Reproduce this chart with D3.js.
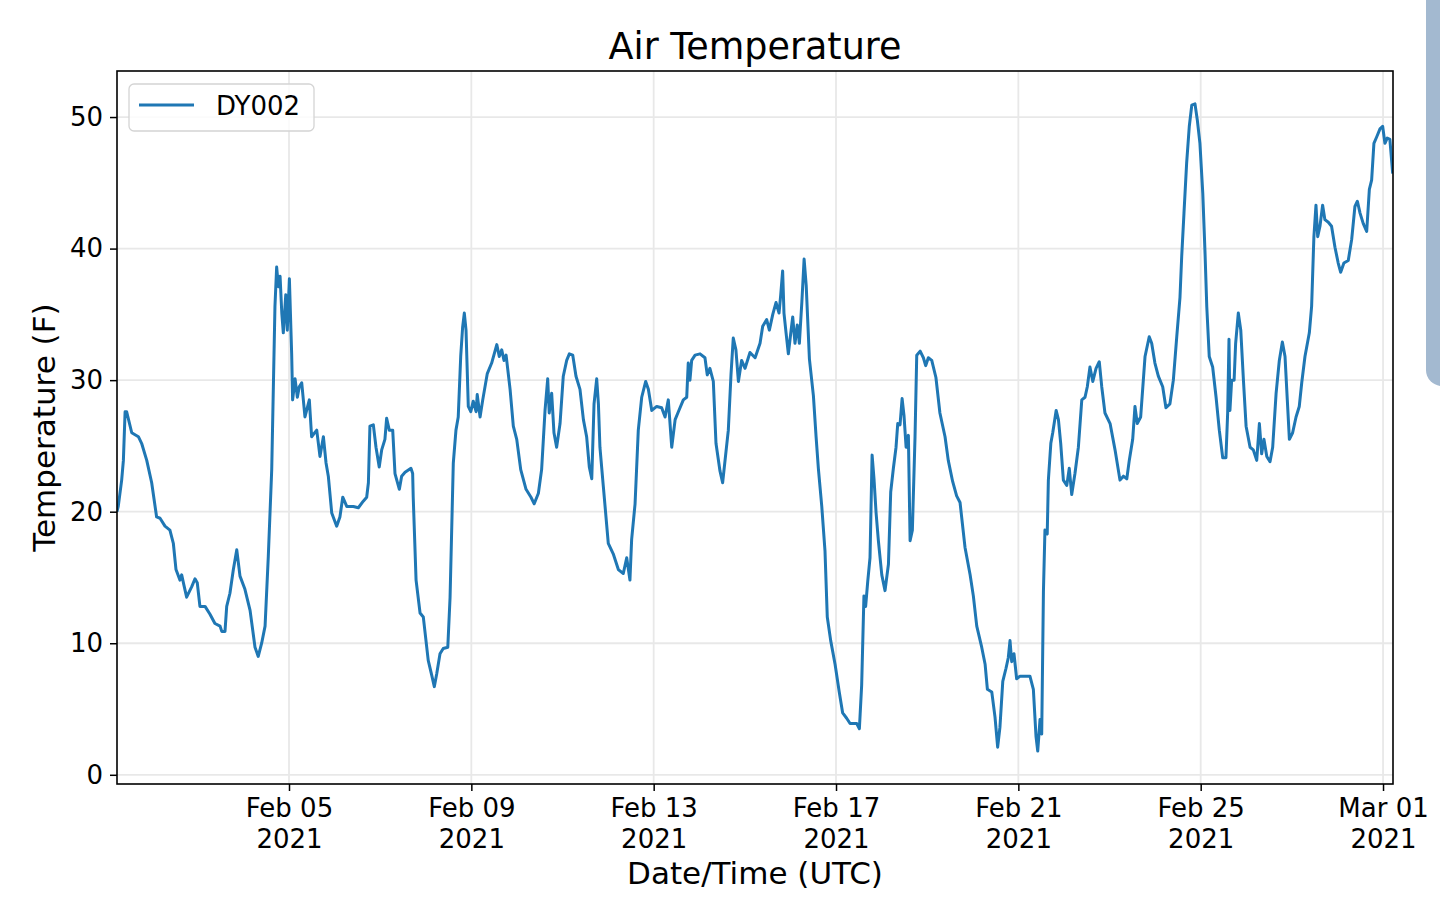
<!DOCTYPE html>
<html>
<head>
<meta charset="utf-8">
<script src="https://cdn.jsdelivr.net/npm/d3@7"></script>
<style>
  html, body { margin: 0; padding: 0; background: #fff; }
  svg, svg text { font-family: "DejaVu Sans", sans-serif; }
  svg { display: block; }
</style>
</head>
<body>
<div id="chart"></div>
<script>
// hours after 2021-02-01 00:00 UTC
const obsHours = [
  5.4, 6.1, 7.9, 8.8, 9.7, 10.5, 13.2, 16.7, 18.4, 21.1, 23.7, 26.3, 28.1, 30.7, 33.3, 35.1,
  36.5, 38.6, 39.5, 40.7, 42.1, 44.8, 46.5, 47.7, 49.1, 51.8, 54.4, 57.0, 59.7, 60.6, 62.3, 63.2,
  64.9, 66.7, 68.5, 70.2, 72.8, 75.5, 78.1, 79.8, 81.6, 83.4, 85.1, 86.0, 86.9, 88.6, 89.5, 90.4,
  91.3, 92.2, 93.0, 94.3, 95.1, 96.2, 97.4, 97.9, 99.2, 100.4, 101.4, 102.7, 104.4, 106.7, 107.9,
  110.6, 112.3, 114.1, 115.5, 116.7, 118.5, 121.1, 122.8, 124.3, 126.4, 129.9, 132.5, 135.1, 136.9,
  137.8, 138.6, 140.4, 141.8, 143.5, 144.8, 146.5, 147.4, 148.8, 150.6, 151.8, 154.1, 155.3, 157.1,
  160.2, 161.1, 161.4, 162.9, 165.0, 166.7, 169.3, 171.1, 172.5, 173.8, 175.5, 177.2, 179.6, 180.8,
  182.5, 183.9, 185.1, 186.4, 187.4, 188.3, 189.2, 190.4, 191.7, 193.0, 194.5, 195.1, 196.6, 198.0,
  200.4, 202.7, 205.4, 206.7, 208.0, 209.2, 210.3, 212.4, 214.1, 215.9, 218.0, 220.8, 223.4, 225.1,
  227.3, 229.0, 230.8, 232.2, 233.0, 234.3, 235.5, 236.9, 238.7, 240.4, 242.2, 243.6, 245.4, 247.1,
  249.2, 251.0, 252.7, 254.1, 255.4, 256.6, 258.0, 258.9, 259.7, 261.5, 264.1, 266.7, 269.4, 272.0,
  273.8, 275.5, 276.4, 278.2, 279.9, 281.7, 283.8, 285.2, 287.0, 289.6, 292.2, 294.0, 295.7, 297.5,
  299.3, 301.0, 303.6, 305.4, 306.2, 307.1, 308.0, 309.8, 312.4, 315.0, 316.2, 317.6, 319.4, 320.8,
  322.9, 324.3, 326.1, 327.3, 328.7, 329.9, 331.3, 332.6, 334.3, 336.1, 338.7, 341.4, 344.0, 345.4,
  347.5, 348.9, 350.7, 352.4, 354.0, 354.9, 355.9, 356.6, 357.7, 358.9, 360.2, 361.2, 362.4, 363.6,
  364.7, 366.0, 367.2, 368.3, 370.0, 372.1, 373.5, 374.7, 376.5, 378.2, 379.4, 381.2, 383.5, 385.7,
  387.5, 389.6, 391.4, 394.9, 396.3, 397.5, 398.7, 399.6, 400.7, 401.9, 403.0, 404.0, 405.1, 406.3,
  408.1, 409.8, 411.6, 412.8, 414.2, 415.6, 416.5, 417.7, 418.8, 419.8, 420.9, 422.1, 423.0, 424.2,
  425.6, 426.5, 428.3, 430.0, 431.2, 432.6, 434.4, 436.6, 438.7, 441.4, 443.1, 445.4, 447.5, 449.3,
  451.9, 454.6, 456.3, 458.1, 460.7, 462.5, 463.7, 466.0, 467.7, 469.1, 470.3, 471.8, 473.5, 474.7,
  475.6, 476.5, 477.7, 479.1, 480.9, 486.1, 487.9, 489.3, 490.2, 491.4, 492.3, 493.2, 494.0, 495.2,
  495.8, 497.1, 498.1, 499.9, 501.1, 502.3, 503.7, 505.5, 506.8, 508.1, 509.8, 511.6, 513.4, 515.1,
  516.3, 517.7, 519.2, 520.9, 522.6, 523.9, 525.6, 528.3, 530.9, 533.5, 535.3, 537.1, 538.4, 540.2,
  541.4, 542.6, 544.4, 546.7, 548.9, 550.2, 551.9, 553.7, 556.0, 557.7, 559.8, 561.6, 563.4, 565.1,
  566.0, 567.2, 568.6, 570.0, 571.3, 573.0, 574.2, 575.6, 577.1, 578.3, 579.2, 580.5, 582.3, 584.1,
  585.8, 587.6, 589.3, 590.2, 590.9, 591.4, 592.3, 593.6, 594.4, 595.8, 597.1, 598.5, 599.9, 602.0,
  603.7, 605.5, 606.9, 608.1, 609.3, 610.8, 612.5, 613.9, 615.7, 617.4, 619.0, 620.4, 621.6, 622.7,
  624.4, 626.2, 627.9, 629.2, 630.9, 633.2, 634.4, 635.6, 636.7, 637.6, 638.8, 640.2, 641.4, 643.2,
  644.9, 646.7, 648.4, 649.7, 651.4, 653.7, 655.5, 657.2, 658.5, 659.9, 661.6, 663.4, 664.8, 666.0,
  667.2, 668.7, 670.4, 671.8, 673.0, 674.2, 675.6, 677.1
];

// air temperature (F) at those times
const obsTemps = [
  20.0, 20.4, 22.4, 23.9, 27.6, 27.6, 26.0, 25.7, 25.2, 23.9, 22.2, 19.6, 19.5, 18.9, 18.6, 17.6,
  15.6, 14.8, 15.2, 14.4, 13.5, 14.3, 14.9, 14.6, 12.8, 12.8, 12.2, 11.5, 11.3, 10.9, 10.9, 12.8,
  13.8, 15.6, 17.1, 15.1, 14.1, 12.5, 9.7, 9.0, 10.0, 11.3, 16.6, 19.9, 23.2, 35.6, 38.6, 37.1,
  37.9, 35.1, 33.6, 36.5, 33.8, 37.7, 32.0, 28.5, 30.1, 28.7, 29.5, 29.8, 27.2, 28.5, 25.7,
  26.2, 24.2, 25.7, 23.7, 22.7, 19.9, 18.9, 19.6, 21.1, 20.4, 20.4, 20.3, 20.8, 21.1,
  22.2, 26.5, 26.6, 24.9, 23.4, 24.7, 25.5, 27.1, 26.2, 26.2, 22.9, 21.7, 22.7, 23.0,
  23.3, 22.9, 21.1, 14.8, 12.3, 12.0, 8.7, 7.6, 6.7, 7.7, 9.2, 9.6, 9.7, 13.5,
  23.7, 26.2, 27.2, 31.8, 34.0, 35.1, 33.8, 28.0, 27.6, 28.4, 27.6, 28.9, 27.2, 28.5,
  30.5, 31.3, 32.7, 31.8, 32.3, 31.5, 31.9, 29.3, 26.5, 25.5, 23.2, 21.7, 21.1, 20.6,
  21.4, 23.2, 27.7, 30.1, 27.5, 29.0, 26.0, 24.9, 26.7, 30.3, 31.5, 32.0, 31.9, 30.3,
  29.3, 27.0, 25.7, 23.4, 22.5, 28.2, 30.1, 28.2, 24.9, 21.9, 17.6, 16.8, 15.6, 15.3,
  16.5, 14.8, 17.9, 20.6, 26.2, 28.7, 29.9, 29.3, 27.7, 28.0, 27.9, 27.2, 28.5, 24.9,
  27.0, 27.6, 28.5, 28.7, 31.3, 30.0, 31.5, 31.9, 32.0, 31.7, 30.4, 30.9, 29.9, 25.2,
  23.1, 22.2, 24.6, 26.2, 30.4, 33.2, 32.3, 29.9, 31.5, 30.9, 32.1, 31.7, 32.8, 34.1,
  34.6, 33.8, 35.0, 35.9, 35.1, 36.5, 38.3, 35.1, 33.6, 32.0, 33.6, 34.8, 32.8, 34.2,
  32.8, 35.9, 39.2, 37.2, 31.6, 28.8, 25.7, 23.3, 20.4, 17.0, 12.0, 10.2, 8.4, 6.3,
  4.7, 4.3, 3.9, 3.9, 3.5, 6.8, 13.6, 12.8, 14.7, 16.5, 24.3, 22.5, 19.9, 17.8,
  15.2, 14.0, 16.0, 21.5, 23.3, 24.9, 26.7, 26.6, 28.6, 27.3, 24.9, 25.8, 17.8, 18.6,
  25.7, 31.9, 32.2, 31.7, 31.1, 31.7, 31.5, 30.2, 27.5, 25.7, 23.9, 22.3, 21.2, 20.7,
  17.3, 15.2, 13.6, 11.3, 9.7, 8.4, 6.5, 6.3, 4.4, 2.1, 3.6, 7.1, 8.1, 8.9,
  10.2, 8.6, 9.2, 7.3, 7.5, 7.5, 6.5, 2.9, 1.8, 4.2, 3.1, 13.9, 18.6, 18.3,
  22.4, 25.2, 26.0, 27.7, 27.0, 25.2, 22.4, 22.0, 23.3, 21.3, 22.9, 24.9, 28.5, 28.7,
  29.5, 31.0, 29.9, 30.9, 31.4, 29.5, 27.5, 26.7, 24.7, 22.4, 22.7, 22.5, 23.9, 25.5,
  28.0, 26.7, 27.2, 31.8, 33.3, 32.8, 31.3, 30.3, 29.5, 27.9, 28.2, 30.0, 33.3, 36.3,
  39.4, 42.7, 46.5, 49.3, 50.9, 51.0, 49.8, 48.0, 44.2, 39.6, 35.6, 31.8, 31.0, 28.7,
  26.2, 24.1, 24.1, 27.5, 33.1, 27.7, 30.0, 30.0, 32.8, 35.1, 33.8, 30.0, 26.5, 24.9,
  24.7, 23.9, 26.7, 24.4, 25.5, 24.2, 23.8, 24.9, 29.0, 31.5, 32.9, 31.8, 28.5, 25.5,
  26.0, 27.2, 28.0, 29.8, 31.8, 33.6, 35.6, 40.9, 43.3, 40.9, 41.7, 43.3, 42.2, 42.0,
  41.7, 40.1, 38.9, 38.2, 38.9, 39.1, 40.7, 43.2, 43.6, 42.7, 41.9, 41.3, 44.5, 45.2,
  48.0, 48.5, 49.1, 49.3, 48.0, 48.4, 48.3, 45.7
];

const tickDates = ["2021-02-05", "2021-02-09", "2021-02-13", "2021-02-17", "2021-02-21", "2021-02-25", "2021-03-01"];
const tempTicks = [0, 10, 20, 30, 40, 50];
const seriesName = "DY002";

document.addEventListener("DOMContentLoaded", function () {
  const svg = d3.select("#chart").append("svg")
    .attr("width", 1440)
    .attr("height", 902);

  const left = 117;
  const right = 1393;
  const top = 71;
  const bottom = 784;
  const blue = "#1f77b4";
  const gridColor = "#e8e8e8";
  const font = "DejaVu Sans, sans-serif";
  const tickFont = "26px";

  const t0 = new Date(Date.UTC(2021, 1, 1));
  const hourToDate = h => new Date(t0.getTime() + h * 3600 * 1000);

  const x = d3.scaleUtc()
    .domain([hourToDate(5.44), hourToDate(677.25)])
    .range([left, right]);

  const y = d3.scaleLinear()
    .domain([-0.7, 53.5])
    .range([bottom, top]);

  const data = obsHours.map((h, i) => ({ date: hourToDate(h), temp: obsTemps[i] }));
  const ticks = tickDates.map(s => new Date(s + "T00:00:00Z"));

  // Grid lines
  svg.append("g").selectAll("line")
    .data(tempTicks)
    .join("line")
    .attr("x1", left)
    .attr("x2", right)
    .attr("y1", d => y(d))
    .attr("y2", d => y(d))
    .attr("stroke", gridColor)
    .attr("stroke-width", 1.8);

  svg.append("g").selectAll("line")
    .data(ticks)
    .join("line")
    .attr("x1", d => x(d))
    .attr("x2", d => x(d))
    .attr("y1", top)
    .attr("y2", bottom)
    .attr("stroke", gridColor)
    .attr("stroke-width", 1.8);

  // The temperature line
  svg.append("clipPath")
    .attr("id", "plot-clip")
    .append("rect")
    .attr("x", left)
    .attr("y", top)
    .attr("width", right - left)
    .attr("height", bottom - top);

  const line = d3.line()
    .x(d => x(d.date))
    .y(d => y(d.temp));

  svg.append("path")
    .datum(data)
    .attr("clip-path", "url(#plot-clip)")
    .attr("fill", "none")
    .attr("stroke", blue)
    .attr("stroke-width", 3)
    .attr("stroke-linejoin", "round")
    .attr("d", line);

  // Axes
  const xAxis = svg.append("g")
    .attr("transform", `translate(0,${bottom})`)
    .call(d3.axisBottom(x).tickValues(ticks).tickSize(7).tickFormat(""));

  xAxis.attr("font-family", font);
  xAxis.select(".domain").remove();
  xAxis.selectAll(".tick line").attr("stroke", "#000").attr("stroke-width", 1.5);

  xAxis.selectAll(".tick").append("text")
    .attr("fill", "#000")
    .attr("text-anchor", "middle")
    .attr("font-family", font)
    .attr("font-size", tickFont)
    .attr("y", 33)
    .each(function (d) {
      const t = d3.select(this);
      t.append("tspan").attr("x", 0).text(d3.utcFormat("%b %d")(d));
      t.append("tspan").attr("x", 0).attr("dy", 31).text(d3.utcFormat("%Y")(d));
    });

  const yAxis = svg.append("g")
    .attr("transform", `translate(${left},0)`)
    .call(d3.axisLeft(y).tickValues(tempTicks).tickSize(7).tickPadding(7));

  yAxis.attr("font-family", font);
  yAxis.select(".domain").remove();
  yAxis.selectAll(".tick line").attr("stroke", "#000").attr("stroke-width", 1.5);
  yAxis.selectAll(".tick text")
    .attr("fill", "#000")
    .attr("font-size", tickFont)
    .attr("font-family", font);

  // Frame
  svg.append("rect")
    .attr("x", left)
    .attr("y", top)
    .attr("width", right - left)
    .attr("height", bottom - top)
    .attr("fill", "none")
    .attr("stroke", "#000")
    .attr("stroke-width", 1.6);

  // Titles
  svg.append("text")
    .attr("x", (left + right) / 2)
    .attr("y", 59)
    .attr("text-anchor", "middle")
    .attr("font-family", font)
    .attr("font-size", "36.5px")
    .text("Air Temperature");

  svg.append("text")
    .attr("x", (left + right) / 2)
    .attr("y", 884)
    .attr("text-anchor", "middle")
    .attr("font-family", font)
    .attr("font-size", "31px")
    .text("Date/Time (UTC)");

  svg.append("text")
    .attr("transform", `translate(55,${(top + bottom) / 2}) rotate(-90)`)
    .attr("text-anchor", "middle")
    .attr("font-family", font)
    .attr("font-size", "31px")
    .text("Temperature (F)");

  // Legend
  const legend = svg.append("g");
  legend.append("rect")
    .attr("x", 129)
    .attr("y", 84)
    .attr("width", 185)
    .attr("height", 47)
    .attr("rx", 5)
    .attr("fill", "#fff")
    .attr("fill-opacity", 0.8)
    .attr("stroke", "#d4d4d4")
    .attr("stroke-width", 1.3);
  legend.append("line")
    .attr("x1", 139)
    .attr("x2", 194)
    .attr("y1", 105)
    .attr("y2", 105)
    .attr("stroke", blue)
    .attr("stroke-width", 2.8);
  legend.append("text")
    .attr("x", 216)
    .attr("y", 115)
    .attr("font-family", font)
    .attr("font-size", tickFont)
    .text(seriesName);

  // Side panel at the top right edge
  svg.append("rect")
    .attr("x", 1426)
    .attr("y", -30)
    .attr("width", 60)
    .attr("height", 416)
    .attr("rx", 16)
    .attr("fill", "#a3b9d0");
});
</script>
</body>
</html>
